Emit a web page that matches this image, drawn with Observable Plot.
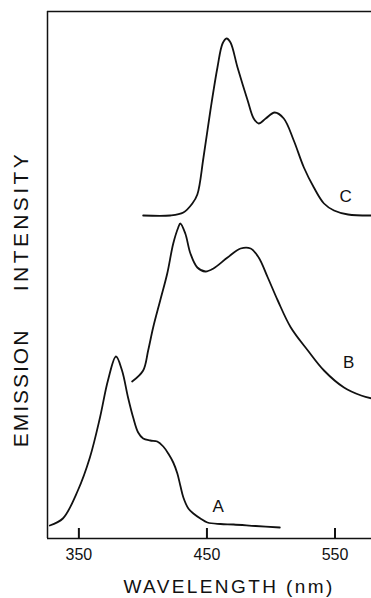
<!DOCTYPE html>
<html><head><meta charset="utf-8">
<script src="https://cdn.jsdelivr.net/npm/d3@7"></script>
<script src="https://cdn.jsdelivr.net/npm/@observablehq/plot@0.6"></script>
<style>body{margin:0;background:#fff;overflow:hidden}</style>
</head><body><div id="chart"></div>
<script>
// Curve A
const wavelengthA = [327.3,337.5,349.2,358.6,366.5,372.7,379.0,383.7,388.4,392.4,396.3,400.2,405.7,411.2,415.9,419.8,423.7,426.9,429.2,431.6,435.5,439.4,444.9,450.4,460.6,470.8,488.0,506.9];
const intensityA  = [13,20,48,81,121,158,182,168,141,121,106,100,98,97,92,85,76,65,53,41,30,25,20,16,14.5,14,12.5,11];
// Curve B
const wavelengthB = [391.6,400.2,404.1,408.0,413.5,419.0,423.7,427.6,429.2,433.1,437.1,442.5,448.8,455.1,466.1,476.3,484.1,490.4,497.5,505.3,515.5,528.8,541.4,557.0,570.4,579.0];
const intensityB  = [157,168,188,211,238,265,295,311,315,305,285,271,267,270,281,290,290,281,261,238,211,188,168,151,143,140];
// Curve C
const wavelengthC = [400.2,421.4,431.6,438.6,442.5,447.3,452.7,458.2,462.2,465.3,468.4,473.9,481.8,486.5,490.4,495.9,502.9,510.0,517.8,525.7,533.5,541.4,549.2,560.2,579.0];
const intensityC  = [323,323,326,335,344,381,428,471,495,500,496,471,438,420,415,420,426,420,398,371,351,335,328,324,323];

const curveNames  = ["A","B","C"];
const labelX      = [458.8,560.7,558.3];
const labelY      = [32,176,342];
const xTicks      = [350,450,550];
const xDomain     = [325.5,578.5];
const yDomain     = [0,527];
const xTitle      = "WAVELENGTH (nm)";
const yTitleWords = ["EMISSION","INTENSITY"];

const toRows = (xs, ys, name) => xs.map((x, i) => ({wl: x, I: ys[i], curve: name}));
const rows = [
  ...toRows(wavelengthA, intensityA, "A"),
  ...toRows(wavelengthB, intensityB, "B"),
  ...toRows(wavelengthC, intensityC, "C")
];
const labels = curveNames.map((n, i) => ({name: n, wl: labelX[i], I: labelY[i]}));
const tickRows = xTicks.map(t => ({x: t, y1: yDomain[0], y2: yDomain[0] + 10}));

const plot = Plot.plot({
  width: 371,
  height: 598,
  marginLeft: 47,
  marginRight: 0,
  marginTop: 11,
  marginBottom: 60,
  style: {fontFamily: "'Liberation Sans', Arial, sans-serif"},
  x: {domain: xDomain, axis: null},
  y: {domain: yDomain, axis: null},
  marks: [
    Plot.ruleY(yDomain, {stroke: "#111", strokeWidth: 1.6}),
    Plot.ruleX([xDomain[0]], {stroke: "#111", strokeWidth: 1.5}),
    Plot.ruleX(tickRows, {x: "x", y1: "y1", y2: "y2", stroke: "#111", strokeWidth: 2}),
    Plot.text(xTicks, {x: d => d, y: yDomain[0], text: d => String(d), dy: 16, fontSize: 16, fill: "#111"}),
    Plot.line(rows, {x: "wl", y: "I", z: "curve", stroke: "#111", strokeWidth: 1.8, curve: "catmull-rom"}),
    Plot.text(labels, {x: "wl", y: "I", text: "name", fontSize: 17, fill: "#111"})
  ]
});

const svg = d3.select(plot);
svg.append("text")
  .attr("x", 229).attr("y", 593)
  .attr("text-anchor", "middle")
  .style("font-size", "19px").style("letter-spacing", "2.4px").style("fill", "#111")
  .text(xTitle);
const yCenters = [388, 221];
const ySpacing = ["2px", "3.4px"];
yTitleWords.forEach((w, i) => {
  svg.append("text")
    .attr("transform", `translate(28,${yCenters[i]}) rotate(-90)`)
    .attr("text-anchor", "middle")
    .style("font-size", "21px").style("letter-spacing", ySpacing[i]).style("fill", "#111")
    .text(w);
});
document.getElementById("chart").appendChild(plot);
</script>
</body></html>
